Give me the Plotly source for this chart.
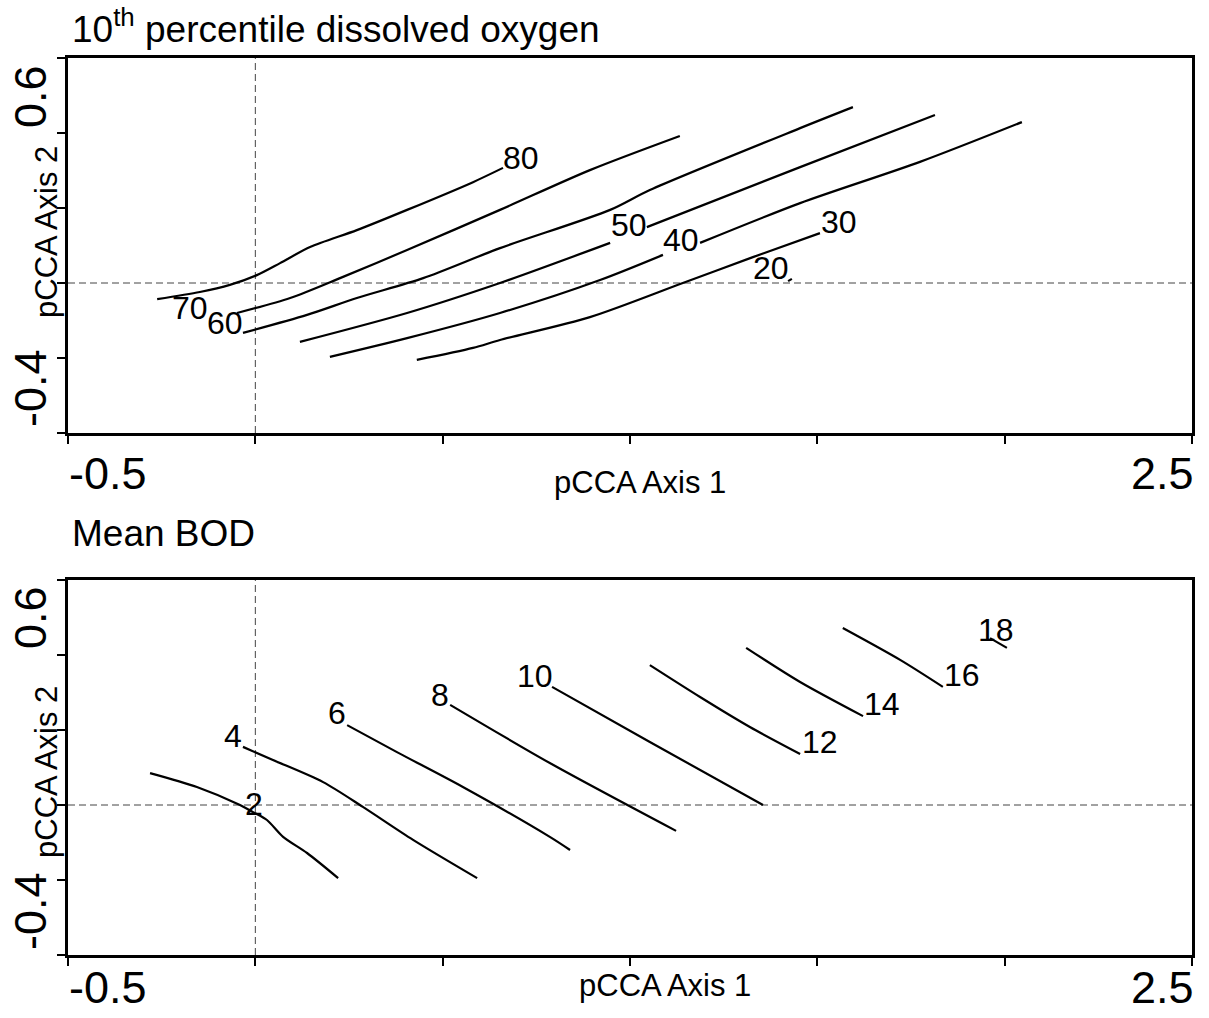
import plotly.graph_objects as go

# ---------------------------------------------------------------------------
# Contour lines on the partial CCA ordination (axis 1 vs axis 2)
# ---------------------------------------------------------------------------

# 10th percentile dissolved oxygen (%) contours
do_levels = [80, 70, 60, 50, 40, 30, 20]

do80_x = [-0.262, -0.148, -0.068, 0.004, 0.066, 0.146, 0.271, 0.405, 0.581, 0.661]
do80_y = [-0.043, -0.024, -0.005, 0.021, 0.053, 0.096, 0.141, 0.195, 0.269, 0.307]

do70_x = [-0.049, 0.093, 0.226, 0.405, 0.653, 0.893, 1.133]
do70_y = [-0.080, -0.040, 0.013, 0.088, 0.195, 0.301, 0.392]

do60_x = [-0.033, 0.138, 0.271, 0.448, 0.653, 0.947, 1.053, 1.454, 1.595]
do60_y = [-0.133, -0.085, -0.040, 0.013, 0.093, 0.195, 0.248, 0.413, 0.469]

# broken where the "50" label sits on the line
do50_x = [0.119, 0.405, 0.653, 0.947, None, 1.045, 1.454, 1.814]
do50_y = [-0.157, -0.080, 0.000, 0.107, None, 0.149, 0.309, 0.448]

# broken where the "40" label sits on the line
do40_x = [0.199, 0.405, 0.653, 0.920, 1.088, None, 1.187, 1.454, 1.774, 2.046]
do40_y = [-0.197, -0.147, -0.080, 0.008, 0.075, None, 0.107, 0.213, 0.323, 0.429]

do30_x = [0.431, 0.581, 0.653, 0.893, 1.141, 1.328, 1.507]
do30_y = [-0.205, -0.173, -0.152, -0.091, 0.000, 0.069, 0.133]

do20_x = [1.422, 1.432]
do20_y = [0.005, 0.011]

do_label_x = [0.709, -0.174, -0.081, 0.997, 1.136, 1.558, 1.376]
do_label_y = [0.333, -0.067, -0.107, 0.155, 0.115, 0.163, 0.040]

# Mean BOD (mg/l) contours
bod_levels = [2, 4, 6, 8, 10, 12, 14, 16, 18]

bod2_x = [-0.281, -0.156, -0.041, -0.006, 0.031, 0.074, 0.138, 0.221]
bod2_y = [0.085, 0.048, 0.000, -0.019, -0.040, -0.085, -0.128, -0.195]

bod4_x = [-0.033, 0.047, 0.181, 0.287, 0.421, 0.592]
bod4_y = [0.155, 0.120, 0.061, -0.005, -0.093, -0.195]

bod6_x = [0.245, 0.378, 0.554, 0.786, 0.840]
bod6_y = [0.213, 0.141, 0.048, -0.085, -0.120]

bod8_x = [0.520, 0.786, 1.123]
bod8_y = [0.267, 0.112, -0.069]

bod10_x = [0.792, 1.053, 1.355]
bod10_y = [0.315, 0.168, 0.000]

bod12_x = [1.053, 1.187, 1.320, 1.454]
bod12_y = [0.373, 0.288, 0.208, 0.136]

bod14_x = [1.310, 1.454, 1.622]
bod14_y = [0.419, 0.328, 0.237]

bod16_x = [1.568, 1.721, 1.835]
bod16_y = [0.472, 0.387, 0.315]

bod18_x = [1.961, 2.006]
bod18_y = [0.445, 0.419]

bod_label_x = [-0.004, -0.060, 0.218, 0.493, 0.746, 1.507, 1.673, 1.886, 1.977]
bod_label_y = [0.003, 0.184, 0.245, 0.293, 0.344, 0.168, 0.269, 0.347, 0.467]

# Axis extents and tick positions
x_range = [-0.5, 2.5]
y_range = [-0.4, 0.6]
x_ticks = [-0.5, 0.0, 0.5, 1.0, 1.5, 2.0, 2.5]
y_ticks = [-0.4, -0.2, 0.0, 0.2, 0.4, 0.6]

# ---------------------------------------------------------------------------
W, H = 1209, 1018
FONT = "Liberation Sans, Arial, sans-serif"


def fx(p):
    return p / W


def fy(p):
    return 1 - p / H


fig = go.Figure()

do_lines = [(do80_x, do80_y), (do70_x, do70_y), (do60_x, do60_y), (do50_x, do50_y),
            (do40_x, do40_y), (do30_x, do30_y), (do20_x, do20_y)]
bod_lines = [(bod2_x, bod2_y), (bod4_x, bod4_y), (bod6_x, bod6_y), (bod8_x, bod8_y),
             (bod10_x, bod10_y), (bod12_x, bod12_y), (bod14_x, bod14_y),
             (bod16_x, bod16_y), (bod18_x, bod18_y)]

line_style = dict(color="black", width=2.2, shape="spline", smoothing=0.8)

for (xs, ys), lev in zip(do_lines, do_levels):
    fig.add_trace(go.Scatter(x=xs, y=ys, mode="lines", name=str(lev),
                             line=line_style, xaxis="x", yaxis="y",
                             showlegend=False, hoverinfo="skip", connectgaps=False))

for (xs, ys), lev in zip(bod_lines, bod_levels):
    fig.add_trace(go.Scatter(x=xs, y=ys, mode="lines", name=str(lev),
                             line=line_style, xaxis="x2", yaxis="y2",
                             showlegend=False, hoverinfo="skip"))

annotations = []
for lev, lx, ly in zip(do_levels, do_label_x, do_label_y):
    annotations.append(dict(x=lx, y=ly, xref="x", yref="y", text=str(lev),
                            showarrow=False, font=dict(size=32, color="black", family=FONT),
                            xanchor="center", yanchor="middle"))
for lev, lx, ly in zip(bod_levels, bod_label_x, bod_label_y):
    annotations.append(dict(x=lx, y=ly, xref="x2", yref="y2", text=str(lev),
                            showarrow=False, font=dict(size=32, color="black", family=FONT),
                            xanchor="center", yanchor="middle"))


def label(text, x, y, size, angle=0, xanchor="center"):
    annotations.append(dict(x=fx(x), y=fy(y), xref="paper", yref="paper", text=text,
                            showarrow=False, textangle=angle,
                            font=dict(size=size, color="black", family=FONT),
                            xanchor=xanchor, yanchor="middle"))


# panel titles
label("10<sup>th</sup> percentile dissolved oxygen", 70, 26, 37, xanchor="left")
label("Mean BOD", 70, 533, 37, xanchor="left")

# axis titles
label("pCCA Axis 1", 640, 482, 31)
label("pCCA Axis 1", 665, 985, 31)
label("pCCA Axis 2", 46, 232, 31, angle=-90)
label("pCCA Axis 2", 46, 772, 31, angle=-90)

# end tick labels
label("-0.5", 108, 473, 45)
label("2.5", 1162, 473, 45)
label("-0.5", 108, 987, 45)
label("2.5", 1162, 987, 45)
label("0.6", 30, 97, 45, angle=-90)
label("-0.4", 30, 388, 45, angle=-90)
label("0.6", 30, 618, 45, angle=-90)
label("-0.4", 30, 911, 45, angle=-90)

axis_common = dict(showgrid=False, zeroline=False, showline=True, linecolor="black",
                   linewidth=2.5, mirror=True, ticks="outside", ticklen=8, tickwidth=2,
                   tickcolor="black", showticklabels=False)

fig.update_layout(
    width=W, height=H,
    margin=dict(l=0, r=0, t=0, b=0),
    paper_bgcolor="white", plot_bgcolor="white",
    xaxis=dict(domain=[fx(68), fx(1192)], range=x_range, tickvals=x_ticks,
               anchor="y", **axis_common),
    yaxis=dict(domain=[fy(433), fy(58)], range=y_range, tickvals=y_ticks,
               anchor="x", **axis_common),
    xaxis2=dict(domain=[fx(68), fx(1192)], range=x_range, tickvals=x_ticks,
                anchor="y2", **axis_common),
    yaxis2=dict(domain=[fy(955), fy(580)], range=y_range, tickvals=y_ticks,
                anchor="x2", **axis_common),
    annotations=annotations,
)

# dashed reference lines through the origin
dash = dict(color="#444444", width=1, dash="7px,4px")
for xa, ya in [("x", "y"), ("x2", "y2")]:
    fig.add_shape(type="line", xref=xa, yref=ya + " domain", x0=0, x1=0, y0=0, y1=1,
                  line=dash, layer="below")
    fig.add_shape(type="line", xref=xa + " domain", yref=ya, x0=0, x1=1, y0=0, y1=0,
                  line=dash, layer="below")

fig.write_html("out.html")
